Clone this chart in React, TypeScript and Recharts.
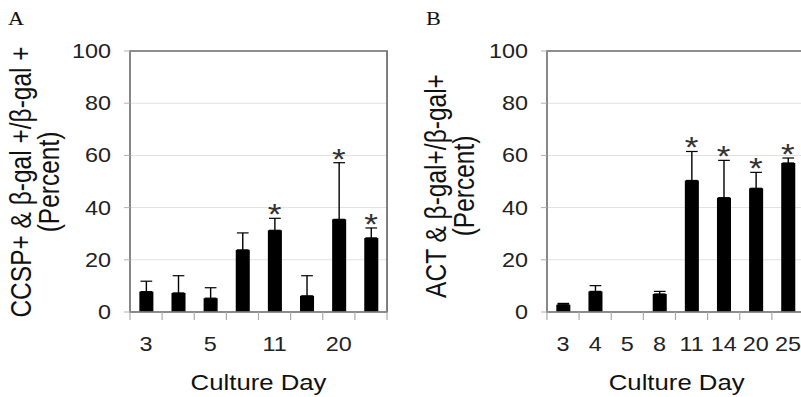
import React from 'react';
import { ComposedChart, Bar, Line, XAxis, YAxis, CartesianGrid, ErrorBar, ReferenceArea } from 'recharts';

const days = ['3', '4', '5', '8', '11', '14', '20', '25'];
const ccspValues = [7.8, 7.3, 5.3, 23.8, 31.3, 6.2, 35.5, 28.4];
const ccspErrors = [4.0, 6.6, 4.0, 6.5, 4.6, 7.7, 21.7, 3.8];
const ccspSignificant = [false, false, false, false, true, false, true, true];
const actValues = [2.8, 7.9, 0, 6.9, 50.4, 43.8, 47.4, 57.1];
const actErrors: (number | null)[] = [0.5, 2.2, null, 1.0, 11.1, 14.3, 6.1, 1.9];
const actSignificant = [false, false, false, false, true, true, true, true];
const yTicks = [0, 20, 40, 60, 80, 100];

const FONT = '"Liberation Sans", Arial, Helvetica, sans-serif';
const SERIF = '"Liberation Serif", "Times New Roman", serif';
const STRETCH = 1.17;
const TINY = 0.01;

function buildRows(values: number[], errors: (number | null)[], sig: boolean[]) {
  return days.map((d, i) => ({
    day: d,
    value: values[i],
    err: errors[i] == null ? null : [0, errors[i] as number],
    star: sig[i] ? values[i] + (errors[i] || 0) : null,
  }));
}

const rowsA = buildRows(ccspValues, ccspErrors, ccspSignificant);
const rowsB = buildRows(actValues, actErrors, actSignificant);

const renderStar = (props: any) => {
  const { cx, cy, value, index } = props;
  if (value == null || cy == null || isNaN(cy)) return <g key={`s${index}`} />;
  return (
    <text key={`s${index}`} x={cx} y={cy + 6} textAnchor="middle" fontSize={30} fill="#333" fontFamily={FONT}>
      *
    </text>
  );
};

const makeTick = (labelEvery: number, count: number) => (props: any) => {
  const { x, y, payload, index } = props;
  const rawHalf = payload ? Number(payload.offset) : 0;
  const half = isFinite(rawHalf) ? rawHalf : 0;
  const i = payload && payload.index != null ? payload.index : index;
  return (
    <g>
      <path d={`M${x - half},${y}v8`} stroke="#a8a8a8" strokeWidth={1} fill="none" />
      {i === count - 1 && <path d={`M${x + half},${y}v8`} stroke="#a8a8a8" strokeWidth={1} fill="none" />}
      {i % labelEvery === 0 && (
        <text x={x} y={y + 25} dy="0.71em" textAnchor="middle" fontSize={20} fill="#222" fontFamily={FONT}>
          {payload.value}
        </text>
      )}
    </g>
  );
};

type PanelProps = {
  rows: any[];
  left: number;
  width: number;
  marginLeft: number;
  marginRight: number;
  labelEvery: number;
  letter: string;
  letterX: number;
  yTitle: string;
  yTitleX: number;
  yTitleY: number;
  xTitleX: number;
};

function Panel(p: PanelProps) {
  const H = 397;
  return (
    <div
      style={{
        position: 'absolute',
        left: p.left,
        top: 0,
        width: p.width,
        height: H,
        transform: `scaleX(${STRETCH})`,
        transformOrigin: '0 0',
      }}
    >
      <ComposedChart
        width={p.width}
        height={H}
        data={p.rows}
        margin={{ top: 51, right: p.marginRight, bottom: 85 - TINY, left: p.marginLeft }}
      >
        <CartesianGrid vertical={false} stroke="#e2e2e2" />
        <ReferenceArea
          x1={days[0]}
          x2={days[days.length - 1]}
          y1={0}
          y2={100}
          fill="none"
          fillOpacity={0}
          stroke="#6e6e6e"
          strokeWidth={1.5}
          ifOverflow="visible"
        />
        <XAxis
          dataKey="day"
          height={TINY}
          interval={0}
          tickLine={false}
          tickSize={0}
          tickMargin={0}
          axisLine={{ stroke: '#8a8a8a', strokeWidth: 1.4 }}
          tick={makeTick(p.labelEvery, p.rows.length)}
        />
        <YAxis
          domain={[0, 100]}
          ticks={yTicks}
          width={60}
          tickSize={5.1}
          tickMargin={11.1}
          tickLine={{ stroke: '#b0b0b0' }}
          axisLine={{ stroke: '#8a8a8a', strokeWidth: 1.4 }}
          tick={{ fontSize: 20, fill: '#222', fontFamily: FONT }}
        />
        <Bar dataKey="value" fill="#000" barSize={12} isAnimationActive={false}>
          <ErrorBar dataKey="err" direction="y" width={5} stroke="#000" strokeWidth={1.2} />
        </Bar>
        <Line
          dataKey="star"
          stroke="none"
          isAnimationActive={false}
          dot={renderStar}
          activeDot={false}
          legendType="none"
        />
      </ComposedChart>
      <svg
        width={p.width}
        height={H}
        style={{ position: 'absolute', left: 0, top: 0, pointerEvents: 'none' }}
      >
        <text x={p.letterX} y={25} fontSize={19} fontFamily={SERIF} fill="#111">
          {p.letter}
        </text>
        <text
          transform={`rotate(-90 ${p.yTitleX} ${p.yTitleY})`}
          x={p.yTitleX}
          y={p.yTitleY}
          textAnchor="middle"
          fontSize={24.5}
          fontFamily={FONT}
          fill="#111"
        >
          <tspan x={p.yTitleX} y={p.yTitleY}>{p.yTitle}</tspan>
          <tspan x={p.yTitleX} y={p.yTitleY + 24.5}>(Percent)</tspan>
        </text>
        <text x={p.xTitleX} y={390} textAnchor="middle" fontSize={22} fontFamily={FONT} fill="#111">
          Culture Day
        </text>
      </svg>
    </div>
  );
}

export default function App() {
  return (
    <div
      style={{
        position: 'absolute',
        left: 0,
        top: 0,
        width: 801,
        height: 397,
        overflow: 'hidden',
        background: '#fff',
      }}
    >
      <Panel
        rows={rowsA}
        left={0}
        width={342}
        marginLeft={51.1}
        marginRight={11.2}
        labelEvery={2}
        letter="A"
        letterX={6.8}
        yTitle="CCSP+ & β-gal +/β-gal +"
        yTitleX={26.1}
        yTitleY={182}
        xTitleX={221}
      />
      <Panel
        rows={rowsB}
        left={400}
        width={360}
        marginLeft={65.6}
        marginRight={14.7}
        labelEvery={1}
        letter="B"
        letterX={22.2}
        yTitle="ACT & β-gal+/β-gal+"
        yTitleX={38.9}
        yTitleY={186}
        xTitleX={236.5}
      />
    </div>
  );
}
